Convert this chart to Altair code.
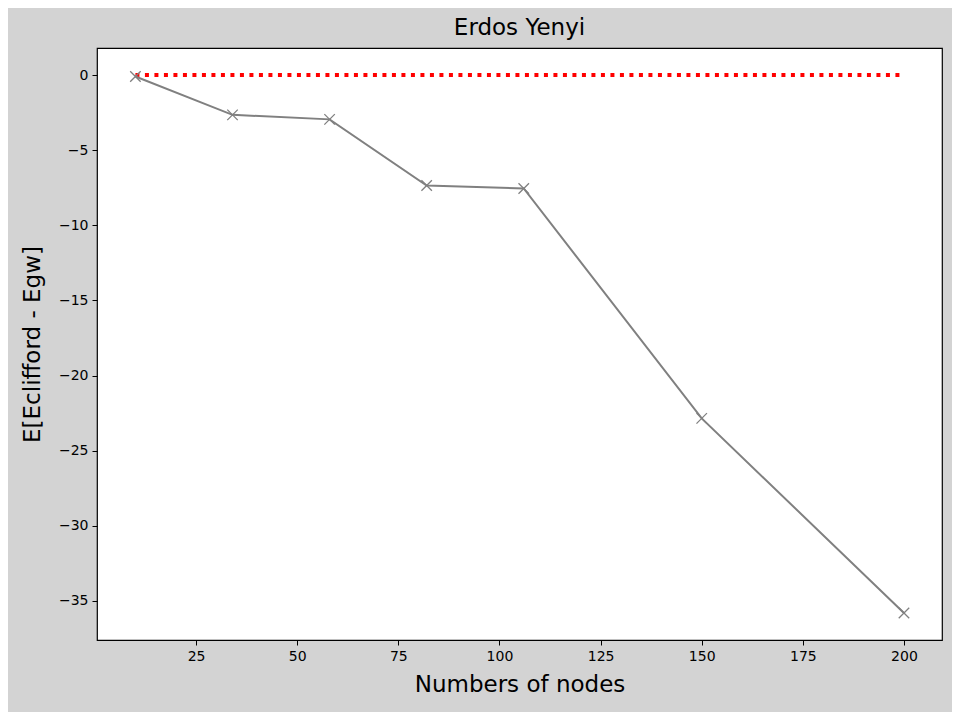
import pandas as pd
import altair as alt

nodes = [10, 34, 58, 82, 106, 150, 200]
diff = [-0.1, -2.65, -2.95, -7.35, -7.55, -22.85, -35.8]
zero_x = [10, 200]
zero_y = [0, 0]

data = pd.DataFrame({"nodes": nodes, "diff": diff})
zero = pd.DataFrame({"nodes": zero_x, "diff": zero_y})

xs = alt.Scale(domain=[0.5, 209.4], nice=False, zero=False)
ys = alt.Scale(domain=[-37.6, 1.8], nice=False, zero=False)
minus = "replace(datum.label, '-', '\u2212')"

x = alt.X("nodes:Q", scale=xs, axis=alt.Axis(title="Numbers of nodes", values=[25, 50, 75, 100, 125, 150, 175, 200], grid=False))
y = alt.Y("diff:Q", scale=ys, axis=alt.Axis(title="E[Eclifford - Egw]", values=[0, -5, -10, -15, -20, -25, -30, -35], grid=False, labelExpr=minus))

ref = alt.Chart(zero).mark_line(color="red", strokeWidth=4, strokeDash=[4, 5.5]).encode(x=x, y=y)
line = alt.Chart(data).mark_line(color="gray", strokeWidth=2).encode(x=x, y=y)
pts = alt.Chart(data).mark_point(
    shape="M-1,-1L1,1M1,-1L-1,1", size=110, filled=False, color="gray", strokeWidth=1.3, opacity=1
).encode(x=x, y=y)

chart = (ref + line + pts).properties(
    width=845, height=592,
    title=alt.Title("Erdos Yenyi", fontSize=23, font="DejaVu Sans", fontWeight="normal", offset=8),
    autosize=alt.AutoSizeParams(type="none"),
    padding={"left": 89, "top": 40, "right": 10, "bottom": 72},
    background="#d3d3d3",
).configure_view(stroke="black", strokeWidth=1.2, fill="white").configure_axis(
    labelFont="DejaVu Sans", labelFontSize=14, labelColor="black",
    titleFont="DejaVu Sans", titleFontSize=23, titleFontWeight="normal", titleColor="black",
    domain=False, tickColor="black", tickSize=5, labelPadding=4,
).configure_axisY(titlePadding=14).configure_axisX(titlePadding=10)

chart.save("out.html", embed_options={"renderer": "svg", "actions": False})
